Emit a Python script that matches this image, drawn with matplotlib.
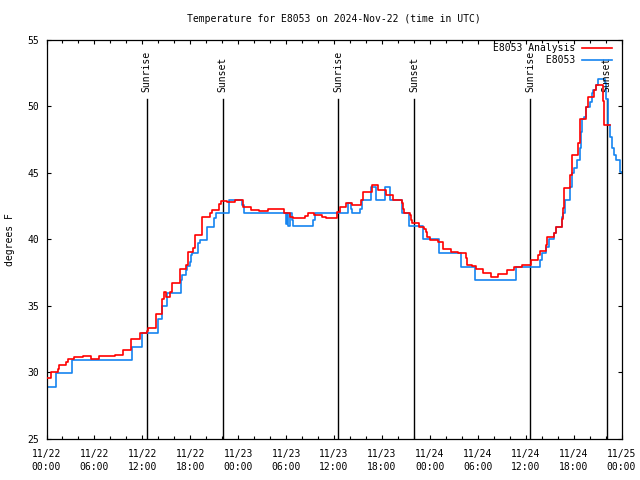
import matplotlib
matplotlib.use("Agg")
import matplotlib.pyplot as plt
from matplotlib.ticker import MultipleLocator, FixedLocator

# ---------------- data (hours since 2024-11-22 00:00 UTC) ----------------
analysis_hours = [0, 0.59, 1.4, 1.55, 2.5, 2.68, 3.4, 4.56, 5.6, 6.57, 8.53, 9.58,
                  10.62, 11.67, 12.6, 12.71, 13.68, 14.5, 14.75, 15.0, 15.45, 15.7,
                  16.69, 17.5, 17.7, 18.4, 18.6, 19.5, 20.5, 20.7, 21.6, 21.9, 22.55,
                  23.6, 24.6, 25.6, 26.6, 27.7, 29.8, 30.55, 30.9, 32.4, 32.79, 33.5,
                  34.5, 35.0, 36.4, 36.76, 37.5, 38.2, 39.4, 39.6, 40.7, 41.5, 42.5,
                  43.35, 44.5, 44.6, 44.8, 45.46, 45.6, 45.75, 46.7, 47.3, 47.5, 47.7,
                  48.0, 48.97, 49.6, 50.6, 51.5, 52.5, 52.7, 53.3, 53.8, 54.7, 55.7,
                  56.5, 57.6, 58.6, 59.6, 60.65, 61.6, 61.77, 62.55, 62.7, 63.6, 63.8,
                  64.6, 64.7, 64.8, 65.6, 65.8, 66.6, 66.85, 67.6, 67.8, 68.5, 68.8,
                  69.65, 69.8, 70.55]
analysis_temp = [29.56, 30.0, 30.3, 30.6, 30.8, 31.0, 31.14, 31.24, 31.0, 31.24, 31.29, 31.69,
                 32.49, 32.94, 33.12, 33.32, 34.37, 35.5, 36.03, 35.7, 36.05, 36.7,
                 37.76, 38.08, 39.04, 39.34, 40.34, 41.72, 41.97, 42.22, 42.64, 42.89, 42.8,
                 42.95, 42.42, 42.22, 42.12, 42.27, 42.02, 41.72, 41.59, 41.8, 42.02, 41.84,
                 41.72, 41.59, 42.09, 42.42, 42.72, 42.59, 43.0, 43.6, 44.1, 43.72, 43.35,
                 43.0, 42.72, 42.27, 42.02, 41.84, 41.47, 41.22, 40.97, 40.76, 40.59, 40.21,
                 39.96, 39.83, 39.26, 39.08, 38.96, 38.58, 38.08, 38.0, 37.76, 37.5, 37.2,
                 37.4, 37.7, 37.96, 38.06, 38.46, 38.8, 39.16, 39.59, 40.2, 40.5, 40.96,
                 41.52, 42.34, 43.85, 44.85, 46.35, 47.23, 49.03, 49.99, 50.74, 51.24, 51.62,
                 50.4, 48.6, 48.6]

obs_hours = [0, 1.17, 3.22, 10.75, 12.0, 13.9, 14.5, 15.1, 16.8, 17.0, 17.5, 17.65,
             17.94, 18.15, 18.28, 19.0, 19.2, 20.1, 21.0, 21.2, 22.9, 24.45, 24.7,
             29.95, 30.1, 30.3, 30.45, 30.7, 30.85, 33.4, 33.6, 37.7, 38.1, 38.3,
             39.2, 39.45, 40.65, 41.3, 42.4, 43.0, 44.5, 45.4, 47.2, 49.15, 51.85,
             53.6, 58.85, 61.85, 62.0, 62.6, 62.9, 63.55, 63.8, 64.5, 64.7, 64.9,
             65.6, 65.85, 66.0, 66.4, 66.75, 66.95, 67.1, 67.3, 67.55, 68.0, 68.25,
             68.45, 68.8, 69.1, 69.9, 70.1, 70.3, 70.5, 70.8, 71.1, 71.35, 71.8, 72.0]
obs_temp = [28.9, 29.94, 30.94, 31.94, 32.95, 34.0, 35.0, 35.95, 36.95, 37.33, 37.7, 38.0,
            38.28, 38.83, 38.96, 39.7, 39.96, 40.96, 41.59, 41.97, 42.97, 42.6, 41.97,
            41.2, 41.97, 41.0, 41.97, 41.5, 41.0, 41.5, 41.97, 42.72, 42.27, 41.97,
            42.27, 42.97, 43.97, 42.97, 43.97, 42.97, 42.0, 41.0, 40.0, 38.96, 37.96,
            36.95, 37.96, 38.46, 38.96, 39.46, 40.0, 40.5, 40.96, 41.7, 42.0, 43.0,
            43.97, 44.97, 45.35, 45.98, 46.85, 48.1, 49.03, 49.23, 49.99, 50.37, 51.0,
            51.24, 51.62, 52.04, 51.74, 50.6, 48.6, 47.7, 46.85, 46.35, 46.0, 45.1, 45.0]

sunrise_hours = [12.55, 36.55, 60.6]
sunset_hours = [22.07, 46.07, 70.15]

xtick_hours = [0, 6, 12, 18, 24, 30, 36, 42, 48, 54, 60, 66, 72]
xtick_labels = ["11/22\n00:00", "11/22\n06:00", "11/22\n12:00", "11/22\n18:00",
                "11/23\n00:00", "11/23\n06:00", "11/23\n12:00", "11/23\n18:00",
                "11/24\n00:00", "11/24\n06:00", "11/24\n12:00", "11/24\n18:00",
                "11/25\n00:00"]
ytick_values = [25, 30, 35, 40, 45, 50, 55]

title = "Temperature for E8053 on 2024-Nov-22 (time in UTC)"
ylabel = "degrees F"
series_names = ["E8053 Analysis", "E8053"]

# ---------------- style ----------------
FONT = "DejaVu Sans Mono"
FS = 7
RED = "#ff0000"
BLUE = "#1584f0"

plt.rcParams["font.family"] = [FONT]
plt.rcParams["font.size"] = FS

fig = plt.figure(figsize=(6.4, 4.8), dpi=100)
L, R, T, B = 46.5, 621.5, 40, 439
ax = fig.add_axes([L / 640, 1 - B / 480, (R - L) / 640, (B - T) / 480])

ax.set_xlim(0, 72)
ax.set_ylim(25, 55)

# sunrise / sunset markers
line_top = 50.6
label_base = 51.1
for h in sunrise_hours:
    ax.plot([h, h], [25, line_top], color="black", lw=1.0, zorder=1)
    ax.text(h, label_base, "Sunrise", rotation=90, ha="center", va="bottom",
            fontsize=FS, family=FONT)
for h in sunset_hours:
    ax.plot([h, h], [25, line_top], color="black", lw=1.0, zorder=1)
    ax.text(h, label_base, "Sunset", rotation=90, ha="center", va="bottom",
            fontsize=FS, family=FONT)

ax.step(analysis_hours, analysis_temp, where="post", color=RED, lw=1.2,
        label=series_names[0], zorder=3)
pad = len(series_names[0]) - len(series_names[1])
ax.step(obs_hours, obs_temp, where="post", color=BLUE, lw=1.2,
        label=" " * pad + series_names[1], zorder=2)

leg = ax.legend(loc="upper right", bbox_to_anchor=(1 - 9.5 / 575, 1 - 3.5 / 399),
                borderaxespad=0, borderpad=0, frameon=False, markerfirst=False,
                handlelength=3.1, handletextpad=0.7, labelspacing=0.15,
                prop={"family": FONT, "size": FS})

# ticks
ax.xaxis.set_major_locator(FixedLocator(xtick_hours))
ax.set_xticklabels(xtick_labels, linespacing=1.35)
ax.xaxis.set_minor_locator(MultipleLocator(2))
ax.yaxis.set_major_locator(FixedLocator(ytick_values))
ax.tick_params(which="both", direction="in", top=True, right=True, width=0.8,
               colors="black", labelsize=FS)
ax.tick_params(which="major", length=3.2)
ax.tick_params(which="minor", length=2.0)
ax.tick_params(axis="x", which="major", pad=7)
ax.tick_params(axis="y", which="major", pad=5)
for s in ax.spines.values():
    s.set_linewidth(0.9)
    s.set_color("black")

fig.text(334 / 640, 1 - 19 / 480, title, ha="center", va="center", fontsize=FS, family=FONT)
fig.text(10 / 640, 1 - 240 / 480, ylabel, rotation=90, ha="center", va="center",
         fontsize=FS, family=FONT)

fig.savefig("out.png", dpi=100)
